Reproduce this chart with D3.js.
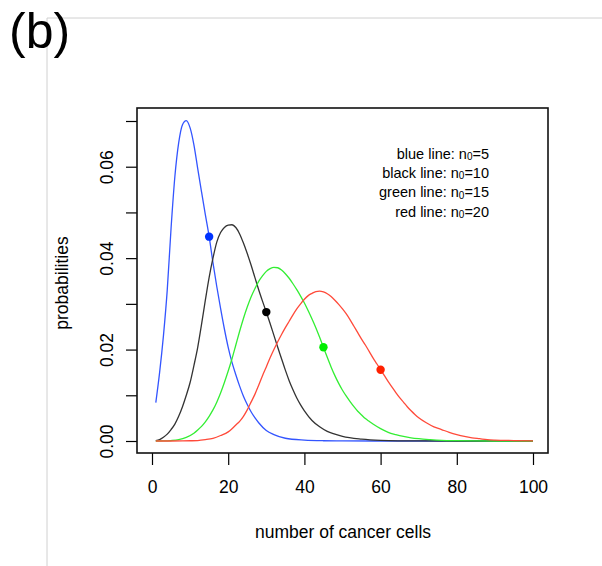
<!DOCTYPE html>
<html>
<head>
<meta charset="utf-8">
<script src="https://cdn.jsdelivr.net/npm/d3@7"></script>
<style>
html,body{margin:0;padding:0;background:#fff;}
svg{display:block;font-family:"Liberation Sans",Arial,Helvetica,sans-serif;}
</style>
</head>
<body>
<svg id="c" width="602" height="566"></svg>
<script>
// ---- data ----
const blueX = [1,2,3,4,5,6,7,8,9,10,11,12,13,14,15,16,17,18,19,20,21,22,23,24,25,26,27,28,30,32,35,40,45,50,60,70,80,90,100];
const blueP = [0.0084,0.0150,0.0230,0.0330,0.0465,0.0578,0.0652,0.0692,0.0701,0.0685,0.0648,0.0596,0.0545,0.0495,0.0447,0.0390,0.0338,0.0290,0.0245,0.0205,0.0172,0.0145,0.0120,0.0098,0.0080,0.0064,0.0051,0.0040,0.0023,0.0014,0.0006,0.0002,0.00006,0.00002,0,0,0,0,0];

const blackX = [1,2,3,4,5,6,7,8,9,10,11,12,13,14,15,16,17,18,19,20,21,22,23,24,25,26,27,28,29,30,31,32,33,34,35,36,37,38,39,40,42,44,46,48,50,55,60,70,80,100];
const blackP = [0.0001,0.0003,0.0008,0.0015,0.0025,0.0037,0.0054,0.0075,0.0100,0.0128,0.0165,0.0205,0.0255,0.0308,0.0358,0.0400,0.0435,0.0456,0.0467,0.0472,0.0473,0.0467,0.0453,0.0433,0.0410,0.0385,0.0358,0.0331,0.0306,0.0282,0.0257,0.0231,0.0205,0.0180,0.0155,0.0132,0.0112,0.0094,0.0079,0.0066,0.0045,0.0031,0.0021,0.0015,0.0010,0.0004,0.00015,0.00002,0,0];

const greenX = [1,3,5,7,9,11,12,13,14,15,16,17,18,19,20,21,22,23,24,25,26,27,28,29,30,31,32,33,34,35,36,37,38,39,40,41,42,43,44,45,46,47,48,49,50,51,52,53,54,55,56,57,58,60,62,64,66,68,70,73,76,80,85,90,100];
const greenP = [0,0.00002,0.0001,0.0003,0.0008,0.0017,0.0024,0.0032,0.0042,0.0054,0.0068,0.0085,0.0105,0.0128,0.0153,0.0180,0.0210,0.0240,0.0268,0.0293,0.0315,0.0333,0.0349,0.0361,0.0371,0.0377,0.0380,0.0379,0.0374,0.0366,0.0356,0.0344,0.0331,0.0317,0.0302,0.0285,0.0267,0.0248,0.0227,0.0205,0.0183,0.0162,0.0143,0.0126,0.0111,0.0098,0.0086,0.0075,0.0065,0.0057,0.0049,0.0043,0.0037,0.0027,0.0019,0.0014,0.0010,0.0007,0.0005,0.0003,0.00015,0.00007,0.00002,0,0];

const redX = [1,5,8,10,12,14,16,18,20,21,22,23,24,25,26,27,28,29,30,31,32,33,34,35,36,37,38,39,40,41,42,43,44,45,46,47,48,49,50,51,52,53,54,55,56,57,58,59,60,61,62,63,64,65,66,67,68,69,70,72,74,76,78,80,82,84,86,88,90,95,100];
const redP = [0,0,0.00002,0.00005,0.0001,0.0003,0.0006,0.0012,0.0020,0.0027,0.0035,0.0043,0.0054,0.0068,0.0085,0.0102,0.0122,0.0143,0.0162,0.0182,0.0200,0.0217,0.0233,0.0248,0.0262,0.0276,0.0289,0.0300,0.0310,0.0318,0.0323,0.0327,0.0328,0.0326,0.0322,0.0316,0.0308,0.0299,0.0289,0.0278,0.0265,0.0251,0.0237,0.0223,0.0210,0.0196,0.0182,0.0169,0.0156,0.0143,0.0130,0.0118,0.0106,0.0095,0.0085,0.0075,0.0066,0.0058,0.0051,0.0040,0.0031,0.0025,0.0019,0.0014,0.0010,0.0007,0.0005,0.0003,0.0002,0.0001,0.00003];

const dotX = [15, 30, 45, 60];
const dotP = [0.0447, 0.0282, 0.0205, 0.0156];

const legendNames = ["blue line", "black line", "green line", "red line"];
const legendN0 = [5, 10, 15, 20];

const xTicks = [0, 20, 40, 60, 80, 100];
const yTicks = [0, 0.01, 0.02, 0.03, 0.04, 0.05, 0.06, 0.07];
const yTickLabels = ["0.00", "", "0.02", "", "0.04", "", "0.06", ""];

// ---- styles ----
const lineColors = ["#3355ff", "#333333", "#33ee33", "#ff4a3a"];
const dotColors  = ["#0033ff", "#000000", "#00ee00", "#ff2000"];

const svg = d3.select("#c");

// outer light frame
svg.append("line").attr("x1",47).attr("y1",18).attr("x2",602).attr("y2",18).attr("stroke","#d0d0d0").attr("stroke-width",1);
svg.append("line").attr("x1",47).attr("y1",18).attr("x2",47).attr("y2",566).attr("stroke","#d0d0d0").attr("stroke-width",1);

// panel label
svg.append("text").attr("x",9).attr("y",48).attr("font-size",50).attr("fill","#000").text("(b)");

// scales
const x = d3.scaleLinear().domain([0,100]).range([152,533]);
const y = d3.scaleLinear().domain([0,0.07]).range([441,121]);
const box = {l:137, r:548, t:108, b:453};

// x axis
const xa = svg.append("g").attr("transform",`translate(0,${box.b})`)
  .call(d3.axisBottom(x).tickValues(xTicks).tickSize(12).tickPadding(16).tickFormat(d3.format("d")));
xa.select(".domain").remove();
xa.selectAll("line").attr("stroke","#000").attr("stroke-width",1.2);
xa.selectAll("text").attr("font-size",17.5).attr("fill","#000").attr("font-family",null);

// y axis
const ya = svg.append("g").attr("transform",`translate(${box.l},0)`)
  .call(d3.axisLeft(y).tickValues(yTicks).tickSize(11).tickFormat((d,i)=>yTickLabels[i]));
ya.select(".domain").remove();
ya.selectAll("line").attr("stroke","#000").attr("stroke-width",1.2);
ya.selectAll("text").attr("font-size",17.5).attr("fill","#000").attr("font-family",null)
  .attr("text-anchor","middle").attr("dy",0).attr("x",0)
  .attr("transform","translate(-24,0) rotate(-90)");

// box
svg.append("rect").attr("x",box.l).attr("y",box.t).attr("width",box.r-box.l).attr("height",box.b-box.t)
  .attr("fill","none").attr("stroke","#111").attr("stroke-width",1.6);

// axis titles
svg.append("text").attr("x",343).attr("y",538).attr("text-anchor","middle").attr("font-size",17.5).text("number of cancer cells");
svg.append("text").attr("transform","translate(68,283) rotate(-90)").attr("text-anchor","middle").attr("font-size",17.5).text("probabilities");

// curves
const line = d3.line().x(d=>x(d[0])).y(d=>y(d[1])).curve(d3.curveMonotoneX);
const series = [[blueX,blueP],[blackX,blackP],[greenX,greenP],[redX,redP]];
const plot = svg.append("g");
series.forEach((s,i)=>{
  const pts = s[0].map((v,j)=>[v,s[1][j]]);
  plot.append("path").datum(pts).attr("d",line).attr("fill","none")
    .attr("stroke",lineColors[i]).attr("stroke-width",1.3);
});
// dots
plot.selectAll("circle").data(dotX).enter().append("circle")
  .attr("cx",(d)=>x(d)).attr("cy",(d,i)=>y(dotP[i])).attr("r",4.2)
  .attr("fill",(d,i)=>dotColors[i]);

// legend
const lg = svg.append("g");
legendNames.forEach((nm,i)=>{
  const t = lg.append("text").attr("x",489).attr("y",158.5+i*19.4).attr("text-anchor","end").attr("font-size",14.5).attr("fill","#000");
  t.append("tspan").text(nm+": n");
  t.append("tspan").attr("font-size",10).attr("dy",1.5).text("0");
  t.append("tspan").attr("dy",-1.5).text("="+legendN0[i]);
});
</script>
</body>
</html>
